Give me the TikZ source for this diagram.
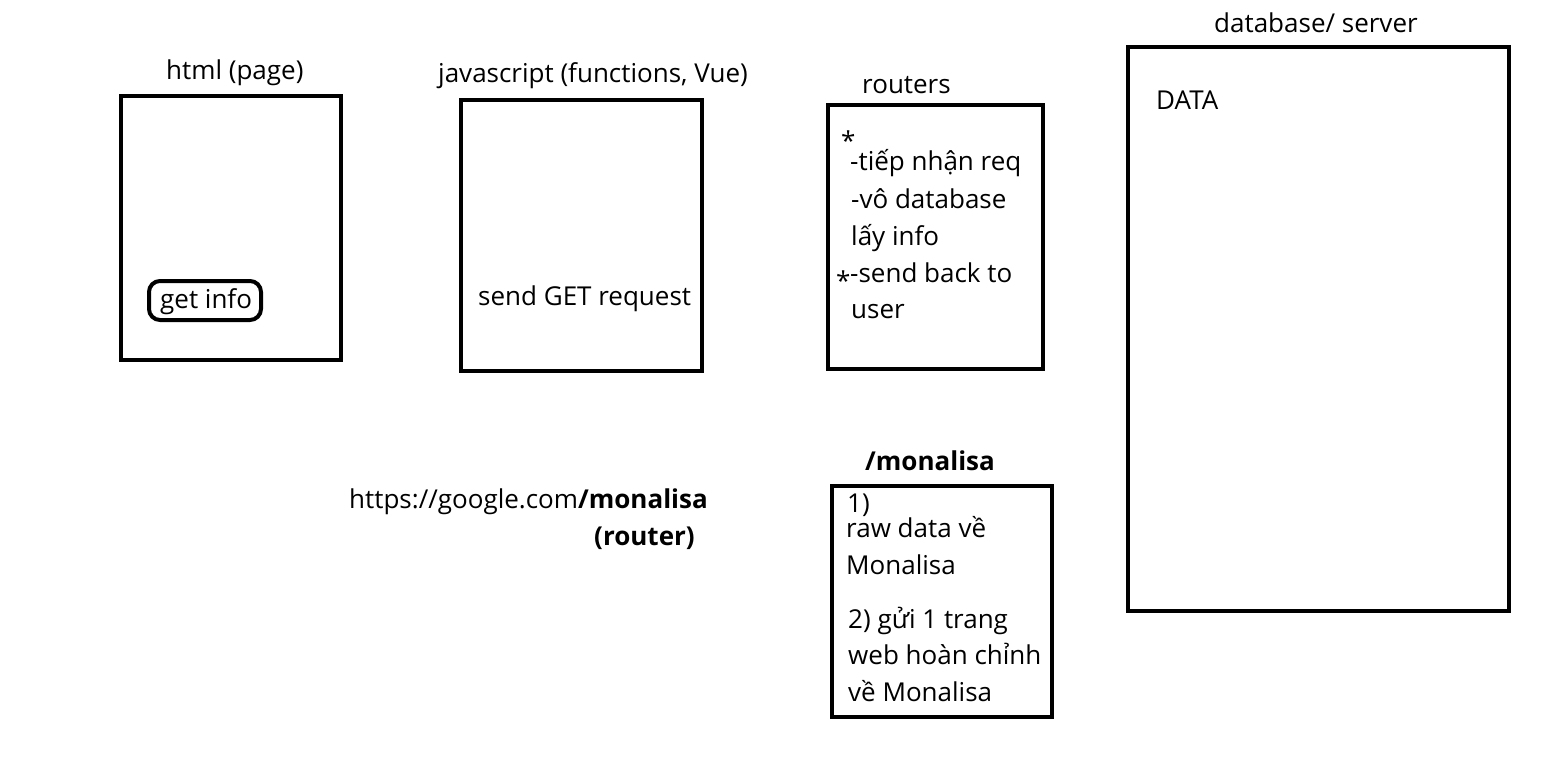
\documentclass[tikz,border=0pt]{standalone}
\usepackage{fontspec}
\setmainfont{Open Sans}
\begin{document}
\begin{tikzpicture}[x=1pt,y=-1pt,
  box/.style={draw=black,line width=4pt,inner sep=0pt,outer sep=0pt,anchor=north west},
  rbox/.style={box,rounded corners=11pt},
  lbl/.style={anchor=base west,inner sep=0pt,font=\fontsize{26}{30}\selectfont},
  blbl/.style={lbl,font=\fontsize{26}{30}\selectfont\bfseries}]
\useasboundingbox[fill=white] (0,0) rectangle (1561,760);
% boxes
\node[box,minimum width=220pt,minimum height=264pt] (html) at (121,96) {};
\node[rbox,minimum width=112pt,minimum height=39pt] (getinfo) at (149,281) {};
\node[box,minimum width=241pt,minimum height=271pt] (js) at (461,100) {};
\node[box,minimum width=215pt,minimum height=264pt] (routers) at (828,105) {};
\node[box,minimum width=220pt,minimum height=231pt] (mona) at (832,486) {};
\node[box,minimum width=381pt,minimum height=564pt] (db) at (1128,47) {};
% titles
\node[lbl] (thtml) at (166,80) {html (page)};
\node[lbl] (tjs) at (438,82) {javascript (functions, Vue)};
\node[lbl] (trouters) at (862,93) {routers};
\node[lbl] (tdb) at (1214,33) {database/ server};
\node[lbl] (tdata) at (1156,110) {DATA};
\node[lbl] (tget) at (160,308) {get info};
\node[lbl] (tsend) at (478,305) {send GET request};
% routers text
\node[lbl] (star1) at (841,150) {*};
\node[lbl] (r1) at (850,170) {-tiếp nhận req};
\node[lbl] (r2) at (851,208) {-vô database};
\node[lbl] (r3) at (851,245) {lấy info};
\node[lbl] (star2) at (836,290) {*};
\node[lbl] (r4) at (850,282) {-send back to};
\node[lbl] (r5) at (851,318) {user};
% monalisa
\node[blbl] (tmona) at (865,470) {/monalisa};
\node[lbl] (m1) at (847,512) {1)};
\node[lbl] (m2) at (846,537) {raw data về};
\node[lbl] (m3) at (846,574) {Monalisa};
\node[lbl] (m4) at (848,628) {2) gửi 1 trang};
\node[lbl] (m5) at (848,664) {web hoàn chỉnh};
\node[lbl] (m6) at (848,701) {về Monalisa};
% url
\node[lbl] (url) at (349,508) {https://google.com\textbf{/monalisa}};
\node[blbl] (trouter) at (594,545) {(router)};
\end{tikzpicture}
\end{document}
